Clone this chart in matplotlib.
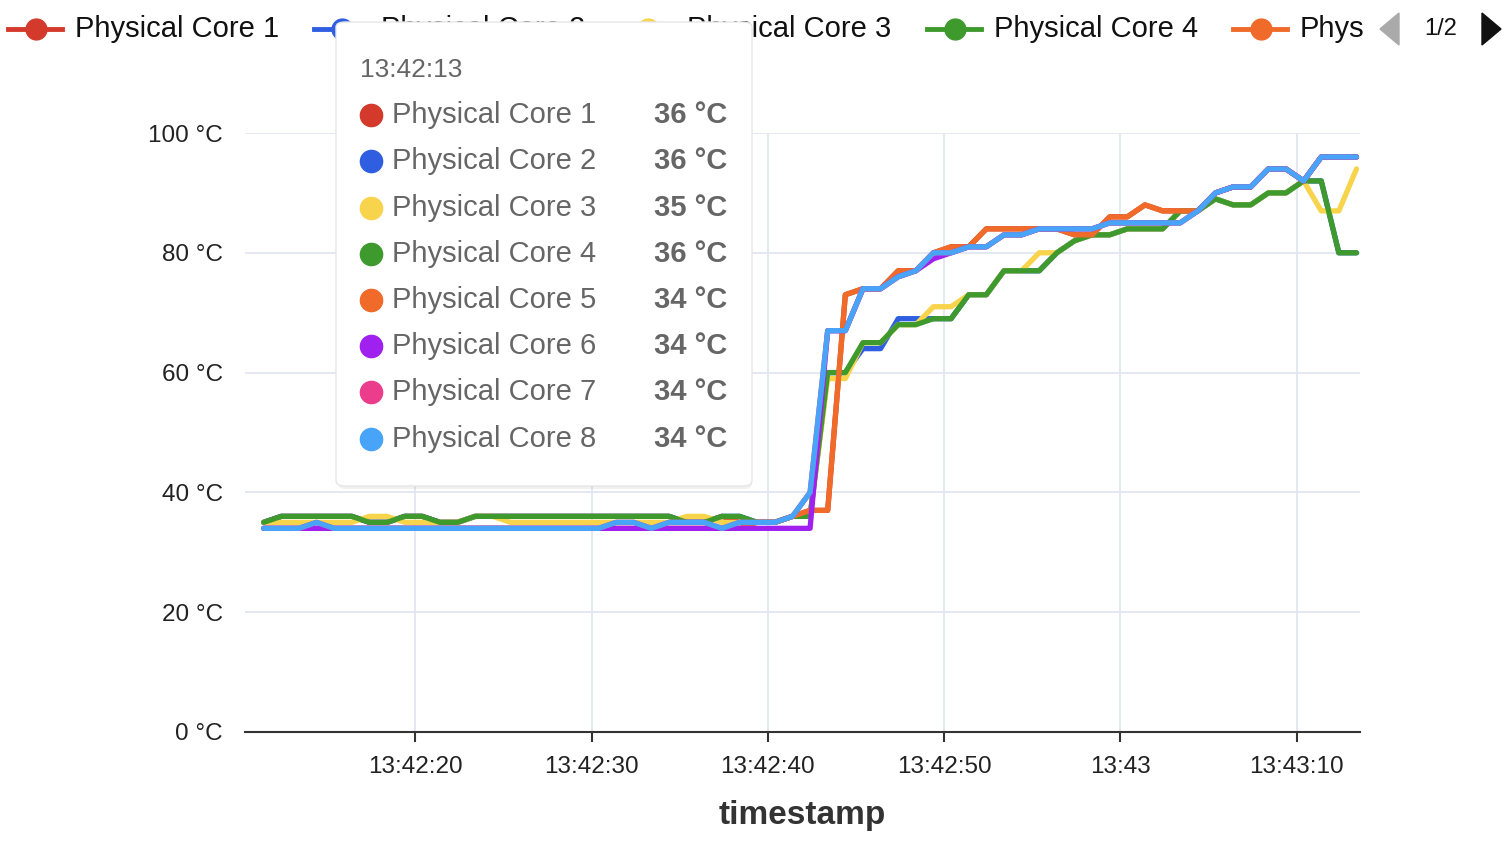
import matplotlib
matplotlib.use("Agg")
import matplotlib.pyplot as plt
from matplotlib.patches import FancyBboxPatch, Polygon
from matplotlib.lines import Line2D
import numpy as np

plt.rcParams["font.family"] = "Liberation Sans"

# seconds after 13:42:00, one sample per second
T0 = 11.4
N = 63

CORE_NAMES = [f"Physical Core {i}" for i in range(1, 9)]
COLORS = ["#d33a2c", "#2f5fe0", "#f8d44c", "#3f9a2d", "#f06a2a", "#a020f0", "#ec3c8c", "#48a4f8"]

core8 = [34, 34, 34, 35, 34, 34, 34, 34, 34, 34, 34, 34, 34, 34, 34, 34, 34, 34, 34, 34,
         35, 35, 34, 35, 35, 35, 34, 35, 35, 35, 36, 40, 67, 67, 74, 74, 76, 77, 80, 80,
         81, 81, 83, 83, 84, 84, 84, 84, 85, 85, 85, 85, 85, 87, 90, 91, 91, 94, 94, 92,
         96, 96, 96]
core7 = list(core8)
core6 = [34, 34, 34, 34, 34, 34, 34, 34, 34, 34, 34, 34, 34, 34, 34, 34, 34, 34, 34, 34,
         34, 34, 34, 34, 34, 34, 34, 34, 34, 34, 34, 34, 67, 67, 74, 74, 76, 77, 79, 80,
         81, 81, 83, 83, 84, 84, 84, 84, 85, 85, 85, 85, 85, 87, 90, 91, 91, 94, 94, 92,
         96, 96, 96]
core5 = [34, 34, 34, 34, 34, 34, 34, 34, 34, 34, 34, 34, 34, 34, 34, 34, 34, 34, 34, 34,
         34, 34, 34, 34, 34, 34, 34, 34, 35, 35, 36, 37, 37, 73, 74, 74, 77, 77, 80, 81,
         81, 84, 84, 84, 84, 84, 83, 83, 86, 86, 88, 87, 87, 87, 90, 91, 91, 94, 94, 92,
         96, 96, 96]
core1 = [35, 36, 36, 36, 36, 36, 35, 35, 36, 36, 35, 35, 36, 36, 36, 36, 36, 36, 36, 36,
         36, 36, 36, 36, 35, 35, 36, 35, 35, 35, 36, 37, 37, 73, 74, 74, 77, 77, 80, 81,
         81, 84, 84, 84, 84, 84, 83, 83, 86, 86, 88, 87, 87, 87, 90, 91, 91, 94, 94, 92,
         96, 96, 96]
core4 = [35, 36, 36, 36, 36, 36, 35, 35, 36, 36, 35, 35, 36, 36, 36, 36, 36, 36, 36, 36,
         36, 36, 36, 36, 35, 35, 36, 36, 35, 35, 36, 36, 60, 60, 65, 65, 68, 68, 69, 69,
         73, 73, 77, 77, 77, 80, 82, 83, 83, 84, 84, 84, 87, 87, 89, 88, 88, 90, 90, 92,
         92, 80, 80]
core3 = [35, 35, 35, 35, 35, 35, 36, 36, 35, 35, 35, 35, 36, 36, 35, 35, 35, 35, 35, 35,
         35, 35, 35, 35, 36, 36, 35, 35, 35, 35, 36, 36, 59, 59, 65, 65, 68, 68, 71, 71,
         73, 73, 77, 77, 80, 80, 82, 83, 83, 84, 84, 84, 87, 87, 89, 88, 88, 90, 90, 92,
         87, 87, 94]
core2 = [35, 36, 36, 36, 36, 36, 35, 35, 36, 36, 35, 35, 36, 36, 36, 36, 36, 36, 36, 36,
         36, 36, 36, 36, 35, 35, 36, 36, 35, 35, 36, 36, 60, 60, 64, 64, 69, 69, 69, 69,
         73, 73, 77, 77, 77, 80, 82, 83, 83, 84, 84, 84, 87, 87, 89, 88, 88, 90, 90, 92,
         92, 80, 80]
SERIES = [core1, core2, core3, core4, core5, core6, core7, core8]

TICK_SECONDS = [20, 30, 40, 50, 60, 70]
TICK_LABELS = ["13:42:20", "13:42:30", "13:42:40", "13:42:50", "13:43", "13:43:10"]
Y_TICKS = [0, 20, 40, 60, 80, 100]

TOOLTIP_TIME = "13:42:13"
TOOLTIP_VALUES = [36, 36, 35, 36, 34, 34, 34, 34]

W, H = 1506, 864
fig = plt.figure(figsize=(W / 100, H / 100), dpi=100)


def fx(px):
    return px / W


def fy(py):
    return 1 - py / H


ax = fig.add_axes([fx(245), fy(732), fx(1360) - fx(245), fy(133) - fy(732)])
t = T0 + np.arange(N)
for vals, c in zip(SERIES, COLORS):
    ax.plot(t, vals, color=c, lw=3.8, solid_joinstyle="round", solid_capstyle="round")

ax.set_xlim(10.34, 73.6)
ax.set_ylim(0, 100)
ax.set_yticks(Y_TICKS)
ax.set_yticklabels([f"{v} °C" for v in Y_TICKS])
ax.set_xticks(TICK_SECONDS)
ax.set_xticklabels(TICK_LABELS)
ax.grid(True, color="#e0e6f1", lw=1.3)
ax.set_axisbelow(True)
for s in ["top", "right", "left"]:
    ax.spines[s].set_visible(False)
ax.spines["bottom"].set_color("#333333")
ax.spines["bottom"].set_linewidth(1.5)
ax.tick_params(axis="y", length=0, pad=16, labelsize=17.5, labelcolor="#222222")
ax.tick_params(axis="x", length=7, width=1.5, color="#333333", pad=10,
               labelsize=17.5, labelcolor="#222222")
ax.set_xlabel("timestamp", fontsize=24, fontweight="bold", color="#333333", labelpad=16)

# paged legend (page 1 of 2)
legend_x = [36, 342, 648, 955, 1261]
for i, x in enumerate(legend_x):
    fig.add_artist(Line2D([fx(x - 28), fx(x + 26)], [fy(29), fy(29)], color=COLORS[i], lw=3.5))
    fig.add_artist(Line2D([fx(x)], [fy(29)], marker="o", ms=15, color=COLORS[i]))
    label = CORE_NAMES[i] if i < 4 else "Phys"
    fig.text(fx(x + 39), fy(29), label, fontsize=21, va="center", color="#111111")
fig.add_artist(Polygon([[fx(1399), fy(13)], [fx(1399), fy(45)], [fx(1380), fy(29)]],
                       closed=True, color="#aaaaaa", transform=fig.transFigure))
fig.add_artist(Polygon([[fx(1482), fy(13)], [fx(1482), fy(45)], [fx(1501), fy(29)]],
                       closed=True, color="#111111", transform=fig.transFigure))
fig.text(fx(1441), fy(29), "1/2", fontsize=17, ha="center", va="center", color="#111111")

# tooltip
shadow = FancyBboxPatch((fx(338), fy(489)), fx(752) - fx(338), fy(22) - fy(487),
                        boxstyle="round,pad=0,rounding_size=0.006", transform=fig.transFigure,
                        facecolor="#000000", alpha=0.06, edgecolor="none", zorder=9)
box = FancyBboxPatch((fx(336), fy(486)), fx(752) - fx(336), fy(22) - fy(486),
                     boxstyle="round,pad=0,rounding_size=0.006", transform=fig.transFigure,
                     facecolor="white", edgecolor="#e6e6e6", lw=1, zorder=10)
fig.add_artist(shadow)
fig.add_artist(box)
fig.text(fx(360), fy(70), TOOLTIP_TIME, fontsize=19, va="center", color="#666666", zorder=11)
row_y = [115, 161, 208, 254, 300, 346, 392, 439]
for name, val, c, y in zip(CORE_NAMES, TOOLTIP_VALUES, COLORS, row_y):
    fig.add_artist(Line2D([fx(371)], [fy(y)], marker="o", ms=16, color=c, zorder=11))
    fig.text(fx(392), fy(y), name, fontsize=21, va="center", color="#666666", zorder=11)
    fig.text(fx(727), fy(y), f"{val} °C", fontsize=21, va="center", ha="right",
             fontweight="bold", color="#666666", zorder=11)

fig.savefig("out.png", dpi=100, facecolor="white")
